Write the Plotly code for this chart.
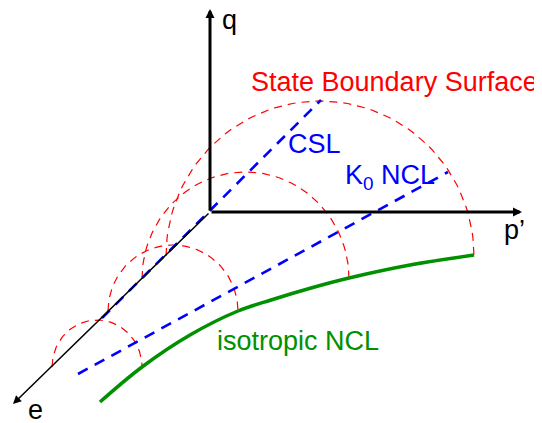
import numpy as np
import plotly.graph_objects as go

W, H = 542, 423
PAD = 8  # page body margin in the browser

RED = '#ff0000'
BLUE = '#0000ff'
GREEN = '#009000'
FONT = 'Liberation Sans, Arial, sans-serif'

# diagram frame in picture units (x right, y down)
ORIGIN = (210, 212)
Q_TIP = (210, 9)
P_TIP = (522, 212)
E_TIP = (13, 404)

CSL_X = [102, 321]
CSL_Y = [318, 100]

K0_X = [78, 448]
K0_Y = [374, 172]

ISO_X = [100, 142, 190, 238, 271, 311, 349, 410, 474]
ISO_Y = [402, 367, 335, 311, 300, 288, 278, 265, 255]

# yield surfaces: start on e axis, end on the isotropic NCL
ARC_X0 = [166, 142, 108, 52]
ARC_X1 = [474, 349, 238, 142]
ARC_BASE = [256, 279, 311, 367]
ARC_TOP = [101, 172, 245, 320]

LABELS = ['State Boundary Surface', 'CSL', 'K<sub>0</sub> NCL', 'isotropic NCL', 'q', 'p’', 'e']
LABEL_X = [249, 286, 343, 215, 220, 502, 26]
LABEL_Y = [82, 144, 177, 341, 20, 230, 410]
LABEL_C = [RED, BLUE, BLUE, GREEN, 'black', 'black', 'black']

fig = go.Figure()

t = np.linspace(0, np.pi, 80)
for x0, x1, yb, yt in zip(ARC_X0, ARC_X1, ARC_BASE, ARC_TOP):
    cx, a, b = (x0 + x1) / 2, (x1 - x0) / 2, yb - yt
    fig.add_trace(go.Scatter(
        x=cx - a * np.cos(t), y=yb - b * np.sin(t), mode='lines',
        line=dict(color=RED, width=1.2, dash='8px,6px'), hoverinfo='skip'))

fig.add_trace(go.Scatter(x=CSL_X, y=CSL_Y, mode='lines',
                         line=dict(color=BLUE, width=2.6, dash='11px,8px')))
fig.add_trace(go.Scatter(x=K0_X, y=K0_Y, mode='lines',
                         line=dict(color=BLUE, width=2.6, dash='11px,8px')))
fig.add_trace(go.Scatter(x=ISO_X, y=ISO_Y, mode='lines', line_shape='spline',
                         line=dict(color=GREEN, width=3.5)))

# axes as arrows
for tip, w, s in [(Q_TIP, 3, 0.6), (P_TIP, 3, 0.6), (E_TIP, 1.5, 1.1)]:
    fig.add_annotation(x=tip[0], y=tip[1], ax=ORIGIN[0], ay=ORIGIN[1],
                       xref='x', yref='y', axref='x', ayref='y', text='',
                       showarrow=True, arrowhead=2, arrowwidth=w, arrowsize=s,
                       arrowcolor='black', standoff=0, startstandoff=0)

for txt, x, y, c in zip(LABELS, LABEL_X, LABEL_Y, LABEL_C):
    fig.add_annotation(x=x, y=y, text=txt, showarrow=False, xanchor='left',
                       yanchor='middle', font=dict(family=FONT, size=27, color=c))

fig.update_layout(
    width=W - PAD, height=H - PAD, margin=dict(l=0, r=0, t=0, b=0),
    paper_bgcolor='white', plot_bgcolor='white', showlegend=False,
    xaxis=dict(range=[PAD, W], visible=False, fixedrange=True),
    yaxis=dict(range=[H, PAD], visible=False, fixedrange=True),
)
fig.write_html('out.html')
